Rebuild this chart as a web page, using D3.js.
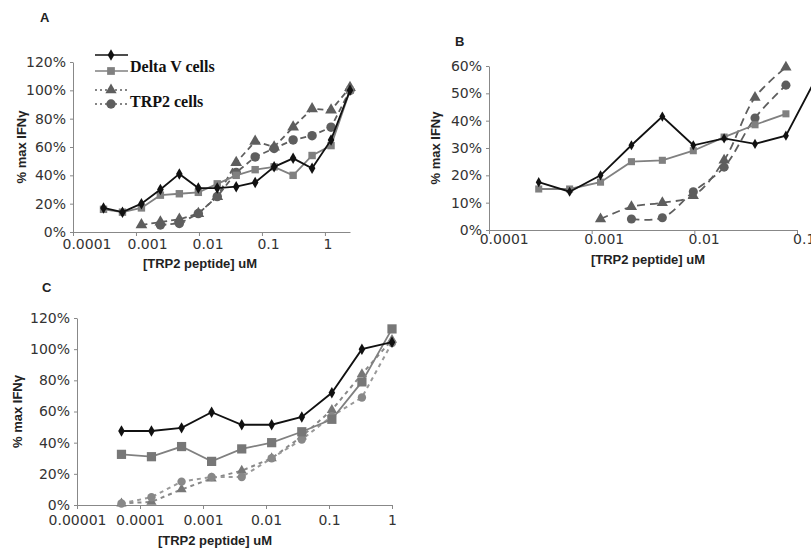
<!DOCTYPE html>
<html>
<head>
<meta charset="utf-8">
<script src="https://cdn.jsdelivr.net/npm/d3@7"></script>
<style>
  body { margin: 0; background: #fff; }
  svg { display: block; }
  .tick text { font-family: "DejaVu Sans", sans-serif; font-size: 14px; fill: #333; }
  .axis path, .axis line { stroke: #888; }
  .ttl { font-family: "Liberation Sans", Arial, sans-serif; font-weight: bold; font-size: 13px; fill: #222; }
  .lgd { font-family: "Liberation Serif", "Times New Roman", serif; font-weight: bold; font-size: 16px; fill: #111; }
</style>
</head>
<body>
<svg id="fig" width="811" height="549"></svg>
<script>
// ---- panel A : 2-fold dilutions ----
const aDoses = [0.000305, 0.00061, 0.00122, 0.00244, 0.00488, 0.00977, 0.0195, 0.039, 0.078, 0.156, 0.3125, 0.625, 1.25, 2.5];
const aDeltaBlack = [17, 14, 20, 30, 41, 31, 31, 32, 35, 46, 52, 45, 65, 100];
const aDeltaGray  = [16, 14, 17, 26, 27, 28, 34, 40, 44, 46, 40, 54, 61, 100];
const aTrpTri     = [null, null, 5, 7, 9, 13, 25, 49, 64, 60, 74, 87, 86, 102];
const aTrpCirc    = [null, null, null, 5, 6, 13, 25, 42, 53, 59, 65, 68, 74, 100];
const aXTicks = [0.0001, 0.001, 0.01, 0.1, 1];
const aYTicks = [0, 20, 40, 60, 80, 100, 120];

// ---- panel B ----
const bDoses = [0.000305, 0.00061, 0.00122, 0.00244, 0.00488, 0.00977, 0.0195, 0.039, 0.078, 0.156];
const bDeltaBlack = [17.5, 14, 20, 31, 41.5, 31, 33.5, 31.5, 34.5, 56];
const bDeltaGray  = [15, 15, 17.5, 25, 25.5, 29, 34, 38.5, 42.5, null];
const bTrpTri     = [null, null, 4, 8.5, 10, 12.5, 25.5, 48.5, 59.5, null];
const bTrpCirc    = [null, null, null, 4, 4.5, 14, 23, 41, 53, null];
const bXTicks = [0.0001, 0.001, 0.01, 0.1];
const bYTicks = [0, 10, 20, 30, 40, 50, 60];

// ---- panel C : 3-fold dilutions ----
const cDoses = [0.0000508, 0.000152, 0.000457, 0.00137, 0.00412, 0.0123, 0.037, 0.111, 0.333, 1];
const cDeltaBlack = [47.5, 47.5, 49.5, 59.5, 51.5, 51.5, 56.5, 72, 100, 104.5];
const cDeltaGray  = [32.5, 31, 37.5, 28, 36, 40, 47, 55, 79, 113];
const cTrpTri     = [1, 2, 10, 17, 22, 30, 44, 61, 84, 106];
const cTrpCirc    = [1, 5, 15, 18, 18, 30, 42, 57, 69, 104];
const cXTicks = [0.00001, 0.0001, 0.001, 0.01, 0.1, 1];
const cYTicks = [0, 20, 40, 60, 80, 100, 120];

const svg = d3.select("#fig");

function fmtDose(d) {
  return d >= 1 ? String(d) : d.toFixed(Math.round(-Math.log10(d)));
}

function panel(cfg) {
  const g = svg.append("g");
  const x = d3.scaleLog().domain(cfg.xDomain).range(cfg.xRange);
  const y = d3.scaleLinear().domain(cfg.yDomain).range(cfg.yRange);

  g.append("g").attr("class", "axis")
    .attr("transform", `translate(0,${cfg.yRange[0]})`)
    .call(d3.axisBottom(x).tickValues(cfg.xTicks).tickFormat(fmtDose).tickSize(4).tickSizeOuter(0))
    .call(a => a.selectAll("text").attr("y", cfg.labelY).each(function() {
      // labels in the source sit a little right of their tick
      const w = this.getComputedTextLength();
      d3.select(this).attr("dx", cfg.labelK * w / 2);
    }));

  g.append("g").attr("class", "axis")
    .attr("transform", `translate(${cfg.xRange[0]},0)`)
    .call(d3.axisLeft(y).tickValues(cfg.yTicks).tickFormat(d => d + "%").tickSize(3).tickSizeOuter(0))
    .call(a => a.selectAll("text").attr("dx", "-1px"));

  // panel letter and titles
  g.append("text").attr("class", "ttl").attr("x", cfg.letterPos[0]).attr("y", cfg.letterPos[1]).text(cfg.letter);
  g.append("text").attr("class", "ttl")
    .attr("transform", `translate(${cfg.yTitleX},${(cfg.yRange[0] + cfg.yRange[1]) / 2}) rotate(-90)`)
    .attr("text-anchor", "middle").text("% max IFNγ");
  g.append("text").attr("class", "ttl")
    .attr("x", cfg.xTitlePos[0]).attr("y", cfg.xTitlePos[1])
    .attr("text-anchor", "middle").text("[TRP2 peptide] uM");

  const clipId = "clip" + cfg.letter;
  g.append("clipPath").attr("id", clipId).append("rect")
    .attr("x", cfg.xRange[0] - 10).attr("y", cfg.yRange[1] - 6)
    .attr("width", 1000).attr("height", cfg.yRange[0] - cfg.yRange[1] + 20);
  const plot = g.append("g").attr("clip-path", `url(#${clipId})`);

  cfg.series.forEach(s => {
    const pts = cfg.doses.map((d, i) => ({ d, v: s.values[i] })).filter(p => p.v != null);
    const line = d3.line().x(p => x(p.d)).y(p => y(p.v)).curve(s.curve || d3.curveLinear);
    plot.append("path").datum(pts)
      .attr("fill", "none").attr("stroke", s.stroke).attr("stroke-width", s.width || 1.8)
      .attr("stroke-dasharray", s.dash || null)
      .attr("d", line);
    plot.selectAll(null).data(pts).enter().append("path")
      .attr("transform", p => `translate(${x(p.d)},${y(p.v)})`)
      .attr("d", d3.symbol().type(s.symbol).size(s.size))
      .attr("fill", s.fill);
  });
}

const black = "#111", gray = "#808080", dark = "#5e5e5e";

panel({
  letter: "A", letterPos: [40, 22],
  xDomain: [0.0001, 2.5], xRange: [73, 350], xTicks: aXTicks, labelK: 0.55, labelY: 7,
  yDomain: [0, 120], yRange: [232, 62], yTicks: aYTicks,
  yTitleX: 26, xTitlePos: [200, 268],
  doses: aDoses,
  series: [
    { values: aTrpTri, stroke: dark, dash: "6,4", symbol: d3.symbolTriangle, size: 60, fill: dark },
    { values: aTrpCirc, stroke: dark, dash: "6,4", symbol: d3.symbolCircle, size: 70, fill: dark },
    { values: aDeltaGray, stroke: gray, symbol: d3.symbolSquare, size: 55, fill: gray },
    { values: aDeltaBlack, stroke: black, symbol: d3.symbolDiamond, size: 38, fill: black }
  ]
});

panel({
  letter: "B", letterPos: [455, 46],
  xDomain: [0.0001, 0.1], xRange: [489, 797], xTicks: bXTicks, labelK: 0.6, labelY: 4,
  yDomain: [0, 60], yRange: [230, 66], yTicks: bYTicks,
  yTitleX: 440, xTitlePos: [648, 264],
  doses: bDoses,
  series: [
    { values: bTrpTri, stroke: dark, dash: "8,5", symbol: d3.symbolTriangle, size: 55, fill: dark, curve: d3.curveCatmullRom },
    { values: bTrpCirc, stroke: dark, dash: "8,5", symbol: d3.symbolCircle, size: 65, fill: dark, curve: d3.curveCatmullRom },
    { values: bDeltaGray, stroke: gray, symbol: d3.symbolSquare, size: 50, fill: gray },
    { values: bDeltaBlack, stroke: black, symbol: d3.symbolDiamond, size: 30, fill: black }
  ]
});

panel({
  letter: "C", letterPos: [42, 292],
  xDomain: [0.00001, 1], xRange: [77, 392], xTicks: cXTicks, labelK: 0, labelY: 10,
  yDomain: [0, 120], yRange: [505, 318], yTicks: cYTicks,
  yTitleX: 22, xTitlePos: [215, 545],
  doses: cDoses,
  series: [
    { values: cTrpTri, stroke: "#888", dash: "4,4", symbol: d3.symbolTriangle, size: 45, fill: "#777", width: 2 },
    { values: cTrpCirc, stroke: "#999", dash: "4,4", symbol: d3.symbolCircle, size: 55, fill: "#888", width: 2 },
    { values: cDeltaGray, stroke: gray, symbol: d3.symbolSquare, size: 85, fill: "#777" },
    { values: cDeltaBlack, stroke: black, symbol: d3.symbolDiamond, size: 38, fill: black }
  ]
});

// legend in panel A
const legendItems = [
  { y: 55, stroke: black, dash: null, symbol: d3.symbolDiamond, size: 38, fill: black },
  { y: 71, stroke: gray, dash: null, symbol: d3.symbolSquare, size: 60, fill: gray },
  { y: 90, stroke: dark, dash: "2,3", symbol: d3.symbolTriangle, size: 55, fill: dark },
  { y: 104, stroke: dark, dash: "2,3", symbol: d3.symbolCircle, size: 70, fill: dark }
];
const lg = svg.append("g");
legendItems.forEach(it => {
  lg.append("line").attr("x1", 95).attr("x2", 128).attr("y1", it.y).attr("y2", it.y)
    .attr("stroke", it.stroke).attr("stroke-width", 1.5).attr("stroke-dasharray", it.dash);
  lg.append("path").attr("transform", `translate(111,${it.y})`)
    .attr("d", d3.symbol().type(it.symbol).size(it.size)).attr("fill", it.fill);
});
lg.append("text").attr("class", "lgd").attr("x", 130).attr("y", 72).text("Delta V cells");
lg.append("text").attr("class", "lgd").attr("x", 130).attr("y", 107).text("TRP2 cells");
</script>
</body>
</html>
